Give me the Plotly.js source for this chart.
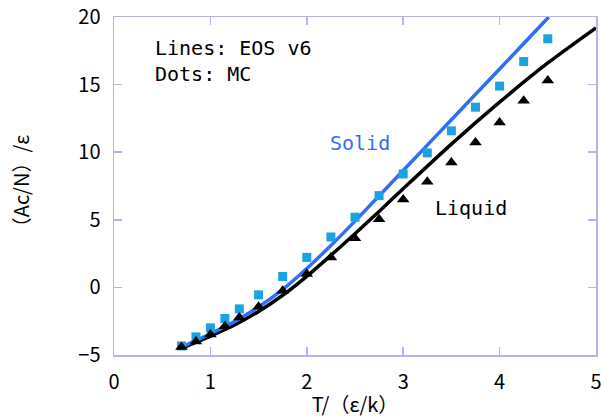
<!DOCTYPE html>
<html>
<head>
<meta charset="utf-8">
<script src="https://cdn.plot.ly/plotly-3.0.1.min.js"></script>
<style>html,body{margin:0;padding:0;background:#fff;}#chart{width:601px;height:418px;}</style>
</head>
<body>
<div id="chart"></div>
<script>
// MC dots
const mcT = [0.7,0.85,1.0,1.15,1.3,1.5,1.75,2.0,2.25,2.5,2.75,3.0,3.25,3.5,3.75,4.0,4.25,4.5];
const solidMC = [-4.33,-3.66,-2.99,-2.30,-1.59,-0.55,0.81,2.22,3.73,5.19,6.79,8.39,9.95,11.58,13.33,14.89,16.71,18.39];
const liquidMC = [-4.4,-4.0,-3.48,-2.87,-2.22,-1.44,-0.25,0.99,2.22,3.63,5.04,6.5,7.82,9.23,10.71,12.19,13.8,15.3];
// EOS v6 lines
const solidLineT = [0.7,1.0,1.25,1.5,1.75,2.0,2.25,2.5,3.0,3.5,4.0,4.51];
const solidLine = [-4.42,-3.43,-2.53,-1.45,-0.15,1.4,3.1,4.9,8.65,12.4,16.15,20.0];
const liquidLineT = [0.7,1.0,1.25,1.5,1.75,2.0,2.25,2.5,2.75,3.0,3.5,4.0,4.5,5.0];
const liquidLine = [-4.5,-3.6,-2.78,-1.78,-0.58,0.82,2.37,3.97,5.62,7.3,10.6,13.7,16.6,19.2];
// axis labels
const xTitle = 'T/（ε/k）';
const yTitle = '（Ac/N）/ε';

const axisCol = '#b4b4ee';
const tickFont = {family: '"Noto Sans CJK JP", "Noto Sans", sans-serif', size: 20, color: '#000'};
const mono = '"DejaVu Sans Mono", "Liberation Mono", monospace';

const traces = [
  {x: liquidLineT, y: liquidLine, mode: 'lines', line: {color: '#000000', width: 3.5, shape: 'spline', smoothing: 0.8}, hoverinfo: 'skip'},
  {x: solidLineT, y: solidLine, mode: 'lines', line: {color: '#2f6ff5', width: 3.5, shape: 'spline', smoothing: 0.8}, hoverinfo: 'skip'},
  {x: mcT, y: solidMC, mode: 'markers', marker: {symbol: 'square', size: 9, color: '#19a3e3'}},
  {x: mcT, y: liquidMC, mode: 'markers', marker: {symbol: 'triangle-up', size: 11, color: '#000000'}}
];

const layout = {
  width: 601, height: 418,
  margin: {l: 114, r: 5, t: 17, b: 63},
  paper_bgcolor: '#fff', plot_bgcolor: '#fff',
  showlegend: false,
  xaxis: {
    range: [0, 5.0001], tickmode: 'array', tickvals: [0,1,2,3,4,5], ticktext: ['0','1','2','3','4','5'],
    showgrid: false, zeroline: false,
    showline: true, linecolor: axisCol, linewidth: 1.5, mirror: 'ticks',
    ticks: 'inside', ticklen: 8, tickcolor: axisCol, tickwidth: 1.5,
    tickfont: tickFont, ticklabelstandoff: 8, ticklabeloverflow: 'allow',
    title: {text: xTitle, font: {family: '"Noto Sans CJK JP", sans-serif', size: 20, color: '#000'}, standoff: 2}
  },
  yaxis: {
    range: [-5, 20], dtick: 5, tick0: 0,
    showgrid: false, zeroline: false,
    showline: true, linecolor: axisCol, linewidth: 1.5, mirror: 'ticks',
    ticks: 'inside', ticklen: 8, tickcolor: axisCol, tickwidth: 1.5,
    tickfont: tickFont, ticklabelstandoff: 8,
    title: {text: yTitle, font: {family: '"Noto Sans CJK JP", sans-serif', size: 20, color: '#000'}, standoff: 43}
  },
  annotations: [
    {xref: 'paper', yref: 'paper', x: 0.08, y: 0.95, xanchor: 'left', yanchor: 'top', align: 'left', showarrow: false,
     text: 'Lines: EOS v6<br>Dots: MC', font: {family: mono, size: 20, color: '#000'}},
    {xref: 'x', yref: 'y', x: 2.55, y: 10.7, xanchor: 'center', yanchor: 'middle', showarrow: false,
     text: 'Solid', font: {family: mono, size: 20, color: '#2f6ff5'}},
    {xref: 'x', yref: 'y', x: 3.7, y: 5.9, xanchor: 'center', yanchor: 'middle', showarrow: false,
     text: 'Liquid', font: {family: mono, size: 20, color: '#000'}}
  ]
};

Plotly.newPlot('chart', traces, layout, {displayModeBar: false, staticPlot: true});
</script>
</body>
</html>
